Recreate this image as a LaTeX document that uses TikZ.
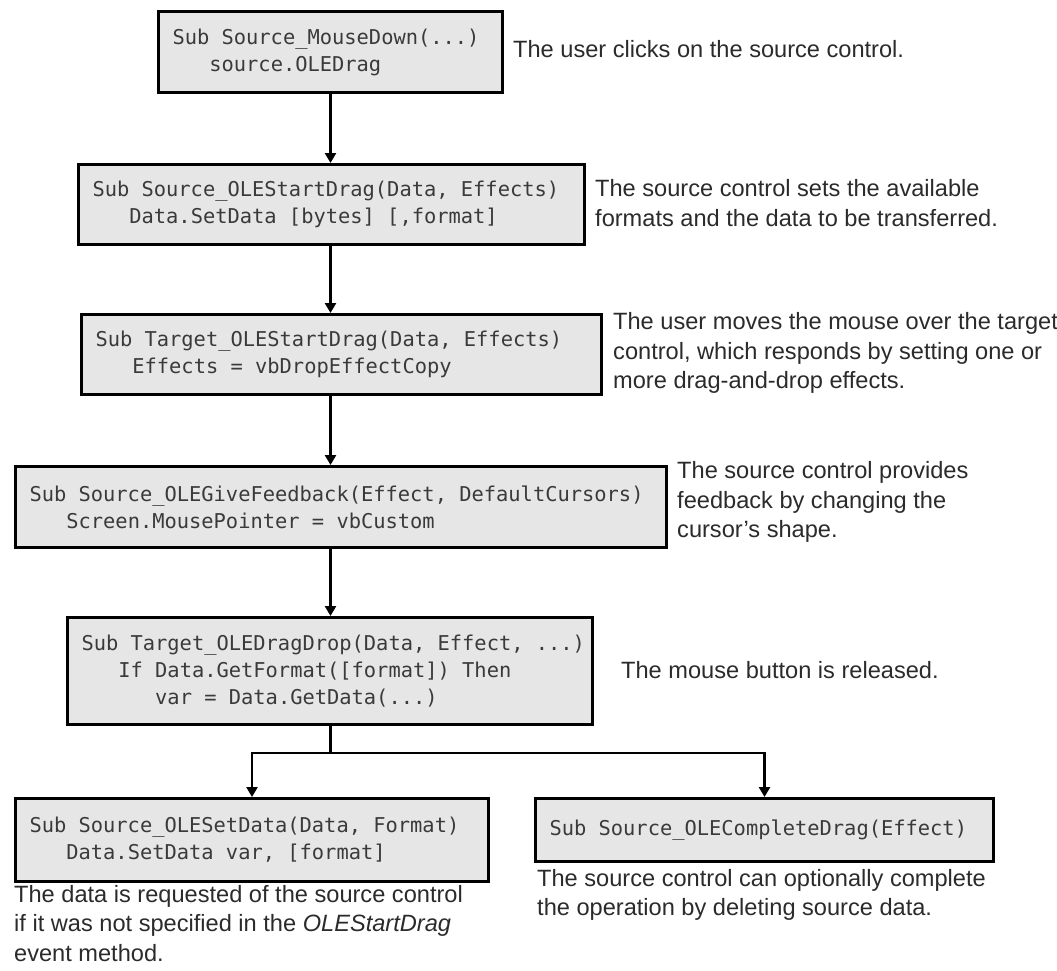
\documentclass[tikz,border=0pt]{standalone}
\usepackage{fontspec}
\setmainfont{Liberation Sans}
\newfontfamily\codefont{DejaVu Sans Mono}
\usetikzlibrary{arrows.meta}

\definecolor{boxfill}{HTML}{E6E6E6}
\definecolor{ink}{HTML}{2B2B2B}
\definecolor{codeink}{HTML}{3A3A3A}

% one code line, never broken, with every space one character cell wide
\newlength{\cellw}
\newcommand{\cl}[1]{\mbox{\settowidth{\cellw}{a}\spaceskip=\cellw
  \xspaceskip=\cellw #1}}
\newcommand{\ind}{\phantom{Sub}}

\tikzset{
  codebox/.style={draw=black, line width=3pt, fill=boxfill, anchor=north west,
    inner xsep=14pt, inner ysep=0pt, align=left, text=codeink,
    font=\codefont\fontsize{20.4}{27}\selectfont},
  note/.style={anchor=west, align=left, inner sep=0pt, text=ink,
    font=\fontsize{23.6}{29.5}\selectfont},
  notebelow/.style={note, anchor=north west},
  link/.style={line width=2.6pt, draw=black},
  arr/.style={link, -{Triangle[length=10pt,width=11pt]}},
}

\begin{document}
\begin{tikzpicture}[x=1pt, y=-1pt]
\fill[white] (0,0) rectangle (1057,970);
\useasboundingbox (0,0) rectangle (1057,970);

% event handler boxes
\node[codebox, minimum height=81pt, text width=316pt] (b1) at (157,10)
  {\cl{Sub Source\_MouseDown(...)}\\\cl{\ind source.OLEDrag}};
\node[codebox, minimum height=80pt, text width=478pt] (b2) at (77,163)
  {\cl{Sub Source\_OLEStartDrag(Data, Effects)}\\\cl{\ind Data.SetData [bytes] [,format]}};
\node[codebox, minimum height=80pt, text width=492pt] (b3) at (80,313)
  {\cl{Sub Target\_OLEStartDrag(Data, Effects)}\\\cl{\ind Effects = vbDropEffectCopy}};
\node[codebox, minimum height=81pt, text width=623pt] (b4) at (14,465)
  {\cl{Sub Source\_OLEGiveFeedback(Effect, DefaultCursors)}\\\cl{\ind Screen.MousePointer = vbCustom}};
\node[codebox, minimum height=107pt, text width=497pt] (b5) at (66,616)
  {\cl{Sub Target\_OLEDragDrop(Data, Effect, ...)}\\\cl{\ind If Data.GetFormat([format]) Then}\\\cl{\ind\ind var = Data.GetData(...)}};
\node[codebox, minimum height=83pt, text width=445pt] (b6) at (14,797)
  {\cl{Sub Source\_OLESetData(Data, Format)}\\\cl{\ind Data.SetData var, [format]}};
\node[codebox, minimum height=63pt, text width=430pt] (b7) at (534,797)
  {\cl{Sub Source\_OLECompleteDrag(Effect)}};

% descriptions
\node[note] (n1) at (513,49) {The user clicks on the source control.};
\node[note] (n2) at (595,203) {The source control sets the available\\formats and the data to be transferred.};
\node[note] (n3) at (613,353) {The user moves the mouse over the target\\control, which responds by setting one or\\more drag-and-drop effects.};
\node[note] (n4) at (677,502) {The source control provides\\feedback by changing the\\cursor's shape.};
\node[note] (n5) at (621,670) {The mouse button is released.};
\node[notebelow] (n6) at (14,885) {The data is requested of the source control\\if it was not specified in the \textit{OLEStartDrag}\\event method.};
\node[notebelow] (n7) at (537,869) {The source control can optionally complete\\the operation by deleting source data.};

% flow
\draw[arr] (b1.south) -- (b1.south |- b2.north);
\draw[arr] (b1.south |- b2.south) -- (b1.south |- b3.north);
\draw[arr] (b1.south |- b3.south) -- (b1.south |- b4.north);
\draw[arr] (b1.south |- b4.south) -- (b1.south |- b5.north);
\coordinate (fork) at (b1.south |- 0,753);
\draw[link] (b1.south |- b5.south) -- (fork);
\draw[arr] (fork) -| (b6.north);
\draw[arr] (fork) -| (b7.north);
\end{tikzpicture}
\end{document}
